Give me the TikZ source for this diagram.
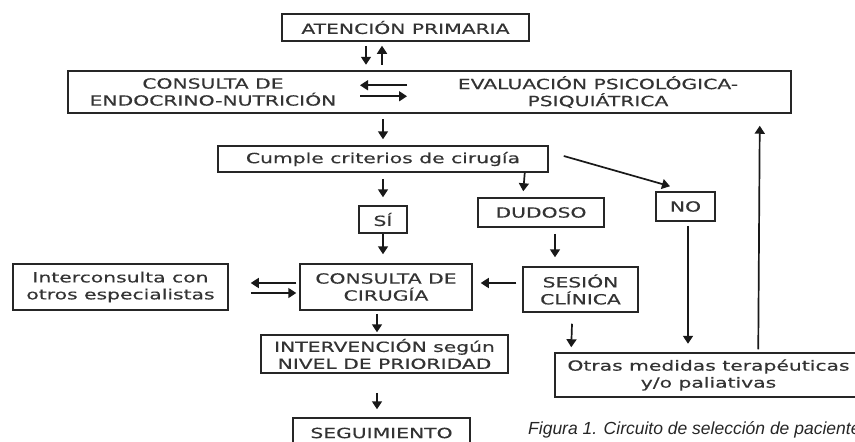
\documentclass[tikz,border=0pt]{standalone}
\usepackage{fontspec}
\setmainfont{DejaVu Sans}
\newfontfamily\boxff{DejaVu Sans}[FakeStretch=1.45,FakeBold=0.3]
\newfontfamily\capfont{Liberation Sans}
\usetikzlibrary{arrows.meta,calc}
\newcommand\boxfont{\boxff\fontsize{14}{17}\selectfont}
\begin{document}
\begin{tikzpicture}[x=1pt,y=-1pt,
  box/.style={draw=black!85, line width=1.5pt, inner sep=0pt, align=center, font=\boxfont, text=black!80},
  txt/.style={inner sep=0pt, align=center, font=\boxfont, text=black!80},
  arr/.style={draw=black!90, line width=1.7pt, -{Triangle[length=8pt,width=10pt]}},
]
\clip (0,0) rectangle (855,442);
\fill[white] (0,0) rectangle (855,442);

\node[box, minimum width=247pt, minimum height=27pt] (aten) at (405.5,27.5) {ATENCIÓN PRIMARIA};
\node[box, minimum width=723pt, minimum height=42pt] (big) at (429.5,92) {};
\node[txt] (endo) at (213,92) {CONSULTA DE\\ENDOCRINO-NUTRICIÓN};
\node[txt] (evalt) at (598,92) {EVALUACIÓN PSICOLÓGICA-\\PSIQUIÁTRICA};
\node[box, minimum width=330pt, minimum height=26pt] (cumple) at (383,159) {Cumple criterios de cirugía};
\node[box, minimum width=48pt, minimum height=27pt] (si) at (383,219.5) {SÍ};
\node[box, minimum width=126pt, minimum height=29pt] (dudoso) at (541,212.5) {DUDOSO};
\node[box, minimum width=59pt, minimum height=29pt] (no) at (685.5,206.5) {NO};
\node[box, minimum width=172pt, minimum height=46pt] (consulta) at (386,287) {CONSULTA DE\\CIRUGÍA};
\node[box, minimum width=115pt, minimum height=45pt] (sesion) at (580.5,289.5) {SESIÓN\\CLÍNICA};
\node[box, minimum width=215pt, minimum height=46pt] (inter) at (120.5,287) {Interconsulta con\\otros especialistas};
\node[box, minimum width=247pt, minimum height=38pt] (interv) at (384.5,354) {INTERVENCIÓN según\\NIVEL DE PRIORIDAD};
\node[box, minimum width=177pt, minimum height=30pt] (seg) at (381.5,433) {SEGUIMIENTO};
\node[box, minimum width=307pt, minimum height=44pt] (otras) at (708.5,375) {Otras medidas terapéuticas\\y/o paliativas};
\node[anchor=west, inner sep=0pt, font=\capfont\itshape\fontsize{17.5}{20}\selectfont, text=black!85] (cap) at (528,430) {Figura 1. Circuito de selección de pacientes};

% arrows
\draw[arr] ($(aten.south)+(-39.5,4)$) -- ($(aten.south)+(-39.5,23)$);
\draw[arr] ($(aten.south)+(-23.5,23)$) -- ($(aten.south)+(-23.5,4)$);
\draw[arr] ($(big.north)+(-22.5,15)$) -- ($(big.north)+(-69.5,15)$);
\draw[arr] ($(big.north)+(-69.5,26)$) -- ($(big.north)+(-22.5,26)$);
\draw[arr] ($(cumple.north)+(0,-26)$) -- ($(cumple.north)+(0,-6)$);
\draw[arr] ($(cumple.south)+(0,6)$) -- ($(si.north)+(0,-8)$);
\draw[arr] (si.south) -- ($(consulta.north)+(-3,-9)$);
\draw[arr] ($(cumple.south east)+(-24,0)$) -- ($(dudoso.north west)+(46,-6)$);
\draw[arr] ($(dudoso.south)+(14,6)$) -- ($(sesion.north)+(-25.5,-9)$);
\draw[arr] ($(cumple.east)+(15,-3)$) -- ($(no.north)+(-15.5,-5)$);
\draw[arr] ($(no.south)+(2.5,4)$) -- ($(no.south)+(2.5,122)$);
\draw[arr] ($(otras.north west)+(204,-3)$) -- ($(big.south east)+(-32,12)$);
\draw[arr] ($(sesion.south)+(-8.5,11)$) -- ($(otras.north west)+(17,-5)$);
\draw[arr] ($(sesion.west)+(-6,-6.5)$) -- ($(consulta.east)+(8,-4)$);
\draw[arr] ($(consulta.west)+(-3,-4)$) -- ($(inter.east)+(22,-4)$);
\draw[arr] ($(inter.east)+(22,6)$) -- ($(consulta.west)+(-3,6)$);
\draw[arr] ($(consulta.south)+(-9,3)$) -- ($(interv.north)+(-7.5,-2)$);
\draw[arr] ($(interv.south)+(-7.5,19)$) -- ($(seg.north)+(-4.5,-8)$);
\end{tikzpicture}
\end{document}
